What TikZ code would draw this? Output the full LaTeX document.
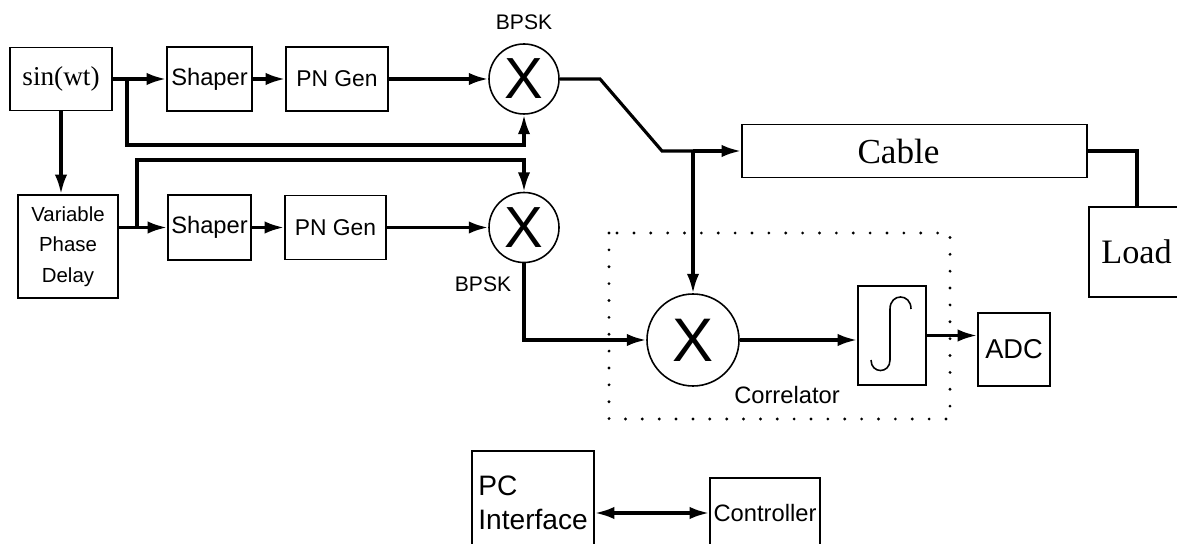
\documentclass[tikz,border=0pt]{standalone}
\usepackage{fontspec}
\setmainfont{Liberation Sans}
\newfontfamily\tmsfont{Liberation Serif}
\usetikzlibrary{arrows.meta}
\newcommand\txtsize[1]{\fontsize{#1}{#1}\selectfont}

\begin{document}
\begin{tikzpicture}[x=0.2mm,y=-0.2mm,
  blk/.style={draw,line width=1.1pt,inner sep=0pt},
  mixer/.style={draw,circle,line width=0.9pt,inner sep=0pt},
  wire/.style={line width=1.8pt},
  sig/.style={wire,-{Latex[length=11pt,width=7pt]}},
  corrbox/.style={line width=1.8pt,dash pattern=on 0pt off 9.6pt,line cap=round}]
\clip (0,0) rectangle (1177,544);

% top row
\node[blk,minimum width=20.4mm,minimum height=12.6mm,font=\tmsfont\txtsize{15.5}] (sin) at (61,79) {sin(wt)};
\node[blk,minimum width=17mm,minimum height=12.8mm,font=\txtsize{13.5}] (shp1) at (209.5,79) {Shaper};
\node[blk,minimum width=20.4mm,minimum height=12.8mm,font=\txtsize{13}] (pn1) at (337,79) {PN Gen};
\node[mixer,minimum size=14mm,font=\txtsize{33}] (mix1) at (524,79) {X};
\node[font=\txtsize{12}] (bpsk1) at (524,22) {BPSK};

% second row
\node[blk,minimum width=20mm,minimum height=20.6mm,align=center,font=\fontsize{11.6}{17.5}\selectfont] (var) at (68,246.5) {Variable\\Phase\\Delay};
\node[blk,minimum width=16.6mm,minimum height=13mm,font=\txtsize{13.5}] (shp2) at (209.5,227.5) {Shaper};
\node[blk,minimum width=20.2mm,minimum height=12.8mm,font=\txtsize{13}] (pn2) at (335.5,227.5) {PN Gen};
\node[mixer,minimum size=14mm,font=\txtsize{33}] (mix2) at (524,227.5) {X};
\node[font=\txtsize{12}] (bpsk2) at (483,284) {BPSK};

% line side
\node[blk,minimum width=69mm,minimum height=10.6mm,font=\tmsfont\txtsize{20}] (cable) at (914.5,151) {Cable\kern6.4mm};
\node[blk,minimum width=24.4mm,minimum height=18mm,font=\tmsfont\txtsize{19.5}] (load) at (1150,252) {Load\kern5.4mm};

% correlator
\draw[corrbox] (609,233) rectangle (950,419);
\node[mixer,minimum size=18.4mm,font=\txtsize{35}] (mix3) at (693,340) {X};
\node[blk,minimum width=13.6mm,minimum height=19.8mm] (intg) at (892,335.5) {};
\draw[line width=0.9pt] (911,309) .. controls (911,293) and (890,293) .. (890,309)
  -- (890,360) .. controls (890,374) and (871,374) .. (871,360);
\node[blk,minimum width=14.4mm,minimum height=14.6mm,font=\txtsize{15.5}] (adc) at (1014,349.5) {ADC};
\node[font=\txtsize{13.5}] (corr) at (787,395) {Correlator};

% control
\node[blk,minimum width=24.4mm,minimum height=24.8mm,anchor=north west] (pc) at (471,450) {};
\node[align=left,anchor=west,inner sep=0pt,font=\fontsize{16}{19}\selectfont] (pctext) at (478,503) {PC\\Interface};
\node[blk,minimum width=22mm,minimum height=14mm,font=\txtsize{13.5}] (ctrl) at (765,513) {Controller};

% connections
\coordinate (j1) at (127,79);
\coordinate (j2) at (137,227.5);
\coordinate (j3) at (693,151);
\draw[wire] (sin.east) -- (j1);
\draw[sig] (j1) -- (shp1.west);
\draw[sig] (shp1.east) -- (pn1.west);
\draw[sig] (pn1.east) -- (mix1.west);
\draw[sig] (j1) -- (127,145) -| (mix1.south);
\draw[sig] (sin.south) -- (sin.south |- var.north);

\draw[wire] (var.east |- shp2.west) -- (j2);
\draw[sig] (j2) -- (shp2.west);
\draw[sig] (shp2.east) -- (pn2.west);
\draw[sig] (pn2.east) -- (mix2.west);
\draw[sig] (j2) -- (137,160) -| (mix2.north);
\draw[sig] (mix2.south) |- (mix3.west);

\draw[wire] (mix1.east) -- (600,79) -- (662,151) -- (j3);
\draw[sig] (j3) -- (cable.west);
\draw[sig] (j3) -- (mix3.north);
\draw[wire] (cable.east) -| (1137,151) -- (1137,0 |- load.north);

\draw[sig] (mix3.east) -- (intg.west |- mix3.east);
\draw[sig] (intg.east) -- (adc.west |- intg.east);
\draw[wire,{Latex[length=11pt,width=7pt]}-{Latex[length=11pt,width=7pt]}] (pc.east |- ctrl.west) -- (ctrl.west);
\end{tikzpicture}
\end{document}
